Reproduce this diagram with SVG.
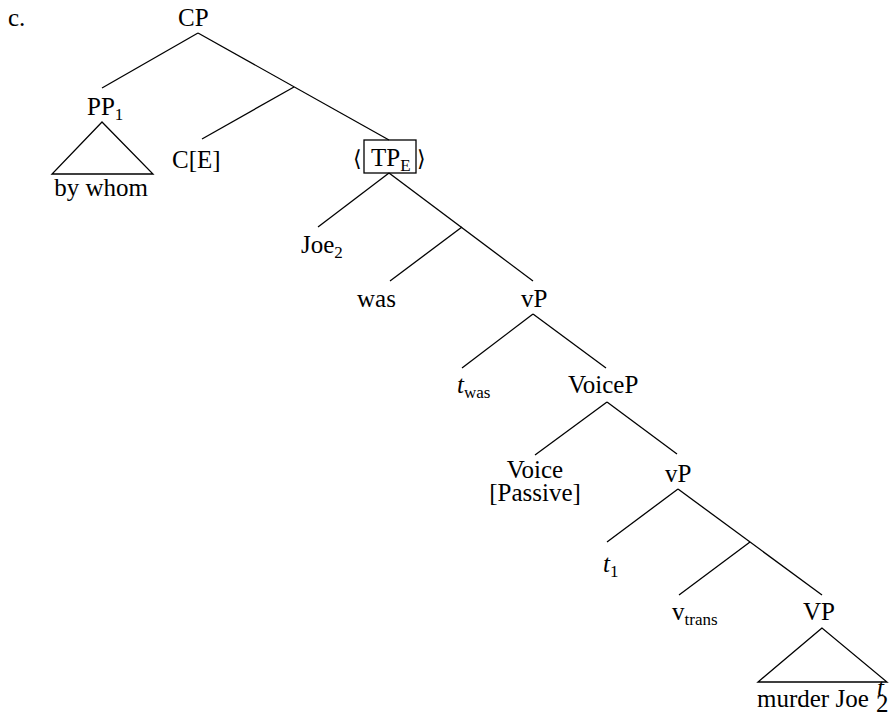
<svg xmlns="http://www.w3.org/2000/svg" width="895" height="717" viewBox="0 0 895 717">
<style>
text{font-size:25px;fill:#000}
.sub{font-size:17px}
.it{font-style:italic}
.br{font-size:22px}
#edges line,.tri,.box{stroke:#000;stroke-width:1.3;fill:none}
</style>
<rect width="895" height="717" fill="#fff"/>
<g font-family="'Liberation Serif', 'DejaVu Serif', 'Times New Roman', serif">
<text id="label-c" x="8" y="26">c.</text>
<g id="edges">
<line x1="198" y1="33" x2="102" y2="88"/>
<line x1="198" y1="33" x2="389" y2="140"/>
<line x1="294" y1="87" x2="202" y2="139"/>
<line x1="389" y1="173" x2="318" y2="227"/>
<line x1="389" y1="173" x2="533" y2="281"/>
<line x1="462" y1="227" x2="390" y2="281"/>
<line x1="533" y1="314" x2="462" y2="368"/>
<line x1="533" y1="314" x2="606" y2="368"/>
<line x1="607" y1="402" x2="535" y2="455"/>
<line x1="607" y1="402" x2="677" y2="454"/>
<line x1="678" y1="489" x2="607" y2="542"/>
<line x1="678" y1="489" x2="822" y2="595"/>
<line x1="750" y1="542" x2="679" y2="595"/>
</g>
<g id="n-CP"><text x="178" y="26">CP</text></g>
<g id="n-PP1"><text x="87" y="115">PP<tspan class="sub" dy="5">1</tspan></text>
<polygon class="tri" points="102,122 52,174 153,174"/>
<text x="101" y="196" text-anchor="middle">by whom</text></g>
<g id="n-CE"><text x="172" y="168">C[E]</text></g>
<g id="n-TPE">
<text class="br" x="353" y="166" font-family="'DejaVu Serif', 'DejaVu Sans', serif">⟨</text>
<rect class="box" x="364" y="140" width="52" height="33"/>
<text x="371" y="166">TP<tspan class="sub" dy="5">E</tspan></text>
<text class="br" x="417" y="166" font-family="'DejaVu Serif', 'DejaVu Sans', serif">⟩</text>
</g>
<g id="n-Joe2"><text x="301" y="253">Joe<tspan class="sub" dy="5">2</tspan></text></g>
<g id="n-was"><text x="357" y="307">was</text></g>
<g id="n-vP1"><text x="521" y="307">vP</text></g>
<g id="n-twas"><text x="457" y="393"><tspan class="it">t</tspan><tspan class="sub" dy="5">was</tspan></text></g>
<g id="n-VoiceP"><text x="568" y="393">VoiceP</text></g>
<g id="n-Voice"><text x="535" y="478" text-anchor="middle">Voice</text>
<text x="535" y="501" text-anchor="middle">[Passive]</text></g>
<g id="n-vP2"><text x="665" y="482">vP</text></g>
<g id="n-t1"><text x="603" y="572"><tspan class="it">t</tspan><tspan class="sub" dy="5">1</tspan></text></g>
<g id="n-vtrans"><text x="672" y="620">v<tspan class="sub" dy="5">trans</tspan></text></g>
<g id="n-VP"><text x="803" y="620">VP</text>
<polygon class="tri" points="822,628 758,682 887,682"/>
<text x="757" y="707">murder Joe</text>
<text class="it" x="877" y="696" font-size="13">t</text>
<text x="876" y="712" font-size="14">2</text>
</g>
</g>
</svg>
